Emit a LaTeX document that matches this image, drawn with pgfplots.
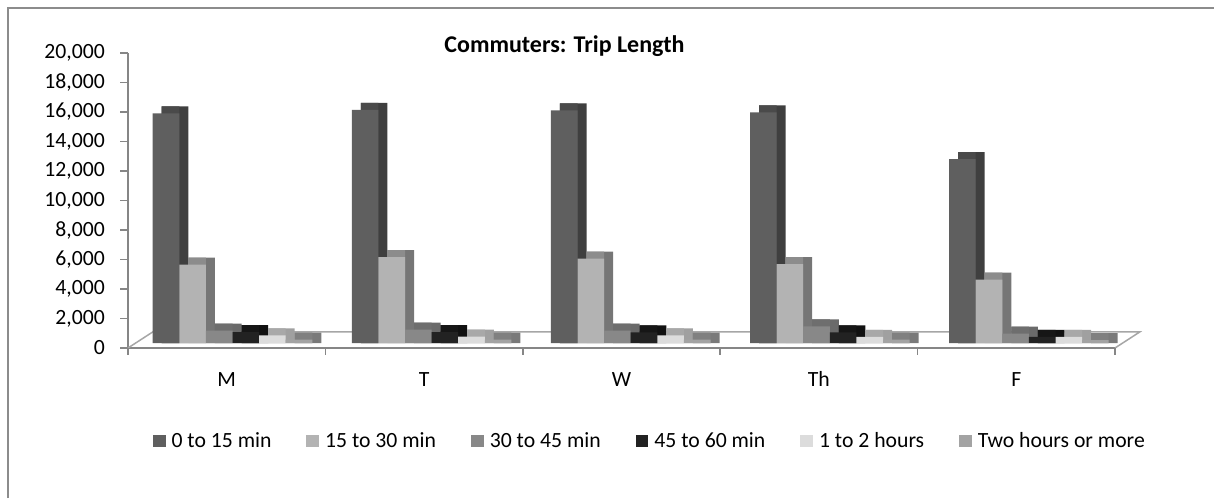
\documentclass[border=0pt]{standalone}
\usepackage{fontspec}
\setmainfont{Carlito}
\usepackage{pgfplots}
\usepackage{pgfplotstable}
\pgfplotsset{compat=1.18}

\definecolor{framegray}{HTML}{8C8C8C}
\definecolor{axisgray}{HTML}{868686}
\definecolor{floorgray}{HTML}{A6A6A6}
% front, side and top faces of each series
\definecolor{aF}{HTML}{5F5F5F}\definecolor{aS}{HTML}{3F3F3F}\definecolor{aT}{HTML}{4A4A4A}
\definecolor{bF}{HTML}{B3B3B3}\definecolor{bS}{HTML}{767676}\definecolor{bT}{HTML}{8C8C8C}
\definecolor{cF}{HTML}{888888}\definecolor{cS}{HTML}{6A6A6A}\definecolor{cT}{HTML}{6E6E6E}
\definecolor{dF}{HTML}{222222}\definecolor{dS}{HTML}{111111}\definecolor{dT}{HTML}{161616}
\definecolor{eF}{HTML}{DCDCDC}\definecolor{eS}{HTML}{A0A0A0}\definecolor{eT}{HTML}{A8A8A8}
\definecolor{fF}{HTML}{A3A3A3}\definecolor{fS}{HTML}{7A7A7A}\definecolor{fT}{HTML}{808080}

% trips per day and length band
\pgfplotstableread{
day a     b    c    d   e   f
0   15570 5310 835  745 515 225
1   15800 5830 900  745 430 225
2   15770 5715 835  712 522 225
3   15630 5355 1125 712 410 225
4   12470 4290 630  410 410 200
}\trips

\newcommand{\lbl}{\fontsize{21.7pt}{26pt}\selectfont}

% #1 column, #2 front shift, #3 side shift, #4 top shift, #5-#7 colours, #8 legend
\newcommand{\cuboid}[8]{%
  \addplot[bar width=0.1336, bar shift=#3, fill=#6, draw=none, forget plot]
    table[x=day, y expr=\thisrow{#1}+474.6] {\trips};
  \addplot[bar width=0.0884, bar shift=#4, fill=#7, draw=none, forget plot]
    table[x=day, y expr=\thisrow{#1}+474.6] {\trips};
  \addplot[bar width=0.1336, bar shift=#2, fill=#5, draw=none]
    table[x=day, y=#1] {\trips};
  \addlegendentry{#8}
}

\begin{document}
\begin{tikzpicture}
\useasboundingbox (0pt,0pt) rectangle (1214pt,498pt);
\draw[framegray, line width=1.5pt] (8pt,0pt) -- (8pt,490pt) -- (1216pt,490pt);

% value axis, floor and day labels
\begin{axis}[
  at={(128pt,150pt)}, anchor=south west,
  scale only axis, width=987pt, height=295pt,
  xmin=0, xmax=5, ymin=0, ymax=20000,
  clip=false,
  axis x line=bottom, axis y line=left,
  axis line style={-, draw=axisgray, line width=1.5pt},
  xtick={0.5,1.5,2.5,3.5,4.5},
  xticklabels={M,T,W,Th,F},
  xtick style={draw=none},
  ytick={0,2000,...,20000},
  ytick style={draw=axisgray, line width=1.5pt},
  tick align=outside, major tick length=8pt,
  scaled y ticks=false,
  /pgf/number format/1000 sep={,},
  /pgf/number format/assume math mode=true,
  tick label style={font=\lbl},
  yticklabel style={anchor=east, inner sep=0pt, xshift=-15pt},
  xticklabel style={anchor=base, inner sep=0pt, yshift=-30pt},
]
\draw[floorgray, line width=1.5pt] (axis cs:0,0) -- (axis cs:0.125,1085)
  -- (axis cs:5.125,1085) -- (axis cs:5,0);
\pgfplotsinvokeforeach{0,...,5}{
  \draw[axisgray, line width=1.5pt] (axis cs:#1,0) -- ++(0pt,-7pt);
}
\end{axis}

% bars
\begin{axis}[
  at={(132.95pt,155pt)}, anchor=south west,
  scale only axis, width=995.5pt, height=295pt,
  xmin=-0.5, xmax=4.5, ymin=0, ymax=20000,
  clip=false, hide axis,
  ybar, bar width=0.1336,
  legend columns=6,
  legend style={at={(0.0198,-0.3322)}, anchor=west, draw=none, fill=none,
    inner sep=0pt, font=\lbl,
    /tikz/every odd column/.append style={column sep=4pt},
    /tikz/every even column/.append style={column sep=33pt}},
  legend image code/.code={\fill[#1] (0pt,-6.35pt) rectangle (12.7pt,6.35pt);},
]
\cuboid{a}{-0.3340}{-0.2888}{-0.3114}{aF}{aS}{aT}{0 to 15 min}
\cuboid{b}{-0.2004}{-0.1552}{-0.1778}{bF}{bS}{bT}{15 to 30 min}
\cuboid{c}{-0.0668}{-0.0216}{-0.0442}{cF}{cS}{cT}{30 to 45 min}
\cuboid{d}{0.0668}{0.1120}{0.0894}{dF}{dS}{dT}{45 to 60 min}
\cuboid{e}{0.2004}{0.2456}{0.2230}{eF}{eS}{eT}{1 to 2 hours}
\cuboid{f}{0.3340}{0.3792}{0.3566}{fF}{fS}{fT}{Two hours or more}
\end{axis}

\node[anchor=base, font=\fontsize{24pt}{29pt}\selectfont\bfseries]
  at (564.5pt,445.3pt) {Commuters: Trip Length};
\end{tikzpicture}
\end{document}
